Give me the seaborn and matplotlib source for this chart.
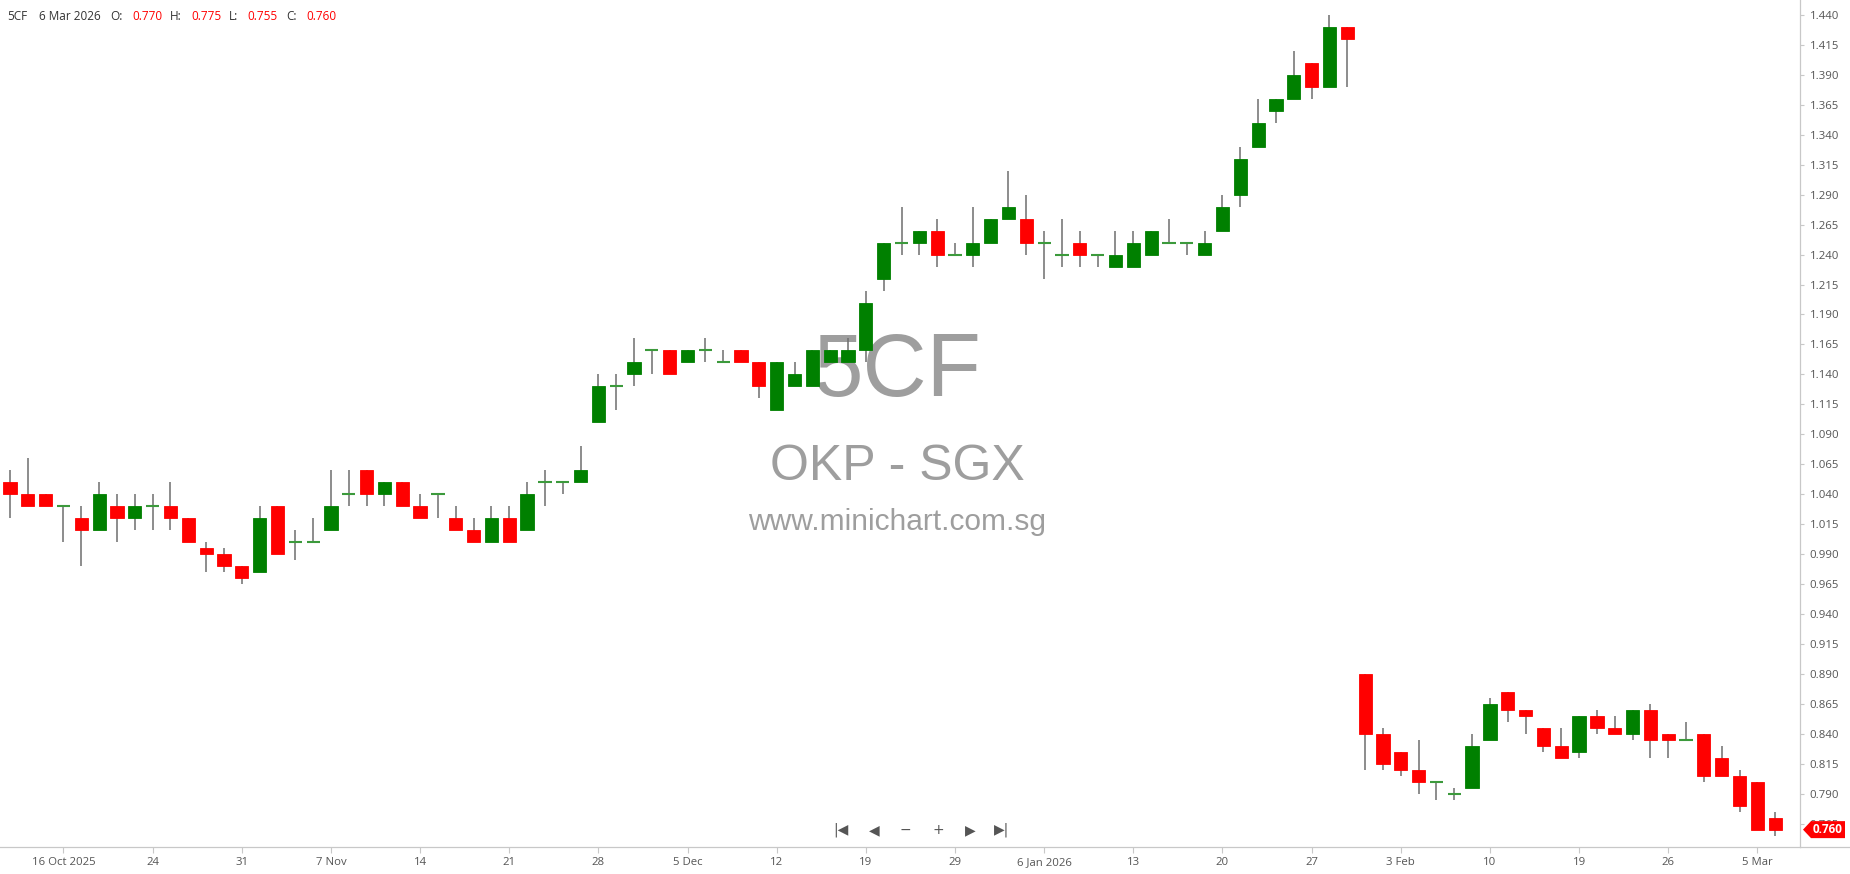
import numpy as np
import pandas as pd
import matplotlib
matplotlib.use("Agg")
import matplotlib.pyplot as plt
import seaborn as sns
from matplotlib.patches import Polygon
from matplotlib.lines import Line2D
from matplotlib.transforms import IdentityTransform

# daily OHLC, 13 Oct 2025 .. 6 Mar 2026 (one entry per trading day)
opens = [1.05, 1.04, 1.04, 1.03, 1.02, 1.01, 1.03, 1.02, 1.03, 1.03,
         1.02, 0.995, 0.99, 0.98, 0.975, 1.03, 1.00, 1.00, 1.01, 1.04,
         1.06, 1.04, 1.05, 1.03, 1.04, 1.02, 1.01, 1.00, 1.02, 1.01,
         1.05, 1.05, 1.05, 1.10, 1.13, 1.14, 1.16, 1.16, 1.15, 1.16,
         1.15, 1.16, 1.15, 1.11, 1.13, 1.13, 1.15, 1.15, 1.16, 1.22,
         1.25, 1.25, 1.26, 1.24, 1.24, 1.25, 1.27, 1.27, 1.25, 1.24,
         1.25, 1.24, 1.23, 1.23, 1.24, 1.25, 1.25, 1.24, 1.26, 1.29,
         1.33, 1.36, 1.37, 1.40, 1.38, 1.43, 0.89, 0.84, 0.825, 0.81,
         0.80, 0.79, 0.795, 0.835, 0.875, 0.86, 0.845, 0.83, 0.825, 0.855,
         0.845, 0.84, 0.86, 0.84, 0.835, 0.84, 0.82, 0.805, 0.80, 0.77]
highs = [1.06, 1.07, 1.04, 1.03, 1.03, 1.05, 1.04, 1.04, 1.04, 1.05,
         1.02, 1.00, 0.995, 0.98, 1.03, 1.03, 1.01, 1.02, 1.06, 1.06,
         1.06, 1.05, 1.05, 1.04, 1.04, 1.03, 1.02, 1.03, 1.03, 1.05,
         1.06, 1.05, 1.08, 1.14, 1.14, 1.17, 1.16, 1.16, 1.16, 1.17,
         1.16, 1.16, 1.15, 1.15, 1.15, 1.16, 1.16, 1.17, 1.21, 1.25,
         1.28, 1.26, 1.27, 1.25, 1.28, 1.27, 1.31, 1.29, 1.26, 1.27,
         1.26, 1.24, 1.26, 1.26, 1.26, 1.27, 1.25, 1.26, 1.29, 1.33,
         1.37, 1.37, 1.41, 1.40, 1.44, 1.43, 0.89, 0.845, 0.825, 0.835,
         0.80, 0.795, 0.84, 0.87, 0.875, 0.86, 0.845, 0.845, 0.855, 0.86,
         0.855, 0.86, 0.865, 0.84, 0.85, 0.84, 0.83, 0.81, 0.80, 0.775]
lows = [1.02, 1.03, 1.03, 1.00, 0.98, 1.01, 1.00, 1.01, 1.01, 1.01,
        1.00, 0.975, 0.975, 0.965, 0.975, 0.99, 0.985, 1.00, 1.01, 1.03,
        1.03, 1.03, 1.03, 1.02, 1.02, 1.01, 1.00, 1.00, 1.00, 1.01,
        1.03, 1.04, 1.05, 1.10, 1.11, 1.13, 1.14, 1.14, 1.15, 1.15,
        1.15, 1.15, 1.12, 1.11, 1.13, 1.13, 1.15, 1.15, 1.15, 1.21,
        1.24, 1.24, 1.23, 1.24, 1.23, 1.25, 1.27, 1.24, 1.22, 1.23,
        1.23, 1.23, 1.23, 1.23, 1.24, 1.25, 1.24, 1.24, 1.26, 1.28,
        1.33, 1.35, 1.37, 1.37, 1.38, 1.38, 0.81, 0.81, 0.805, 0.79,
        0.785, 0.785, 0.795, 0.835, 0.85, 0.84, 0.825, 0.82, 0.82, 0.84,
        0.84, 0.835, 0.82, 0.82, 0.835, 0.80, 0.805, 0.775, 0.76, 0.755]
closes = [1.04, 1.03, 1.03, 1.03, 1.01, 1.04, 1.02, 1.03, 1.03, 1.02,
          1.00, 0.99, 0.98, 0.97, 1.02, 0.99, 1.00, 1.00, 1.03, 1.04,
          1.04, 1.05, 1.03, 1.02, 1.04, 1.01, 1.00, 1.02, 1.00, 1.04,
          1.05, 1.05, 1.06, 1.13, 1.13, 1.15, 1.16, 1.14, 1.16, 1.16,
          1.15, 1.15, 1.13, 1.15, 1.14, 1.16, 1.16, 1.16, 1.20, 1.25,
          1.25, 1.26, 1.24, 1.24, 1.25, 1.27, 1.28, 1.25, 1.25, 1.24,
          1.24, 1.24, 1.24, 1.25, 1.26, 1.25, 1.25, 1.25, 1.28, 1.32,
          1.35, 1.37, 1.39, 1.38, 1.43, 1.42, 0.84, 0.815, 0.81, 0.80,
          0.80, 0.79, 0.83, 0.865, 0.86, 0.855, 0.83, 0.82, 0.855, 0.845,
          0.84, 0.86, 0.835, 0.835, 0.835, 0.805, 0.805, 0.78, 0.76, 0.76]

tick_idx = [3, 8, 13, 18, 23, 28, 33, 38, 43, 48,
            53, 58, 63, 68, 73, 78, 83, 88, 93, 98]
tick_labels = ["16 Oct 2025", "24", "31", "7 Nov", "14", "21", "28", "5 Dec", "12", "19",
               "29", "6 Jan 2026", "13", "20", "27", "3 Feb", "10", "19", "26", "5 Mar"]
price_labels = ["0.765", "0.790", "0.815", "0.840", "0.865", "0.890", "0.915",
                "0.940", "0.965", "0.990", "1.015", "1.040", "1.065", "1.090",
                "1.115", "1.140", "1.165", "1.190", "1.215", "1.240", "1.265",
                "1.290", "1.315", "1.340", "1.365", "1.390", "1.415", "1.440"]

symbol = "5CF"
last_date = "6 Mar 2026"

UP = "#008000"
DOWN = "#ff0000"
WICK = "#6e6e6e"
TXT = "#555555"
AXIS = "#c8c8c8"

sns.set_theme(style="white")
plt.rcParams['font.family'] = ['Open Sans', 'DejaVu Sans']

df = pd.DataFrame({'open': opens, 'high': highs, 'low': lows, 'close': closes})
df['idx'] = np.arange(len(df))
df['up'] = df['close'] >= df['open']
df['color'] = np.where(df['up'], UP, DOWN)
df['bottom'] = df[['open', 'close']].min(axis=1)
df['height'] = (df['close'] - df['open']).abs()

W, H = 1850, 874
fig = plt.figure(figsize=(W / 100, H / 100), dpi=100)
fig.patch.set_facecolor('white')
ax = fig.add_axes([0, 27 / H, 1800 / W, 847 / H])
ax.set_facecolor('white')

# wicks
ax.vlines(df['idx'], df['low'], df['high'], color=WICK, lw=1.1, zorder=2)

# bodies
body = df[df['height'] > 0]
ax.bar(body['idx'], body['height'], bottom=body['bottom'], width=0.74,
       color=body['color'], edgecolor=body['color'], linewidth=0.6, zorder=3)

# doji
doji = df[df['height'] == 0]
ax.hlines(doji['close'], doji['idx'] - 0.37, doji['idx'] + 0.37,
          color='#3c9a3c', lw=1.5, zorder=3)

ax.set_xlim(-0.56, 100.39)
ax.set_ylim(0.7455, 1.4525)

ax.set_xticks(tick_idx)
ax.set_xticklabels(tick_labels)
ax.yaxis.tick_right()
ax.set_yticks([float(v) for v in price_labels])
ax.set_yticklabels(price_labels)
ax.tick_params(axis='x', direction='out', length=4, width=0.8, color=AXIS,
               labelsize=8.2, labelcolor=TXT, pad=3, bottom=True)
ax.tick_params(axis='y', direction='out', length=3, width=0.8, color=AXIS,
               labelsize=8.2, labelcolor=TXT, pad=4, right=True, left=False)
ax.grid(False)
for side in ['left', 'top']:
    ax.spines[side].set_visible(False)
for side in ['right', 'bottom']:
    ax.spines[side].set_color(AXIS)
    ax.spines[side].set_linewidth(0.9)
fig.add_artist(Line2D([1800 / W, 1], [27 / H, 27 / H], color=AXIS, lw=0.9,
                      transform=fig.transFigure))

# watermark (behind candles)
wm = '#9e9e9e'
ax.text(897 / W, 1 - 373 / H, symbol, transform=fig.transFigure, ha='center',
        va='center', fontsize=64, color=wm, family='Liberation Sans', zorder=1)
ax.text(897 / W, 1 - 467 / H, "OKP - SGX", transform=fig.transFigure, ha='center',
        va='center', fontsize=36, color=wm, family='Liberation Sans', zorder=1)
ax.text(897 / W, 1 - 522 / H, "www.minichart.com.sg", transform=fig.transFigure,
        ha='center', va='center', fontsize=21.5, color=wm, family='Liberation Sans',
        zorder=1)

# header line
last = df.iloc[-1]
parts = [(symbol, 7, '#333333'), (last_date, 39, '#333333'),
         ("O:", 110, '#333333'), (f"{last['open']:.3f}", 132, DOWN),
         ("H:", 170, '#333333'), (f"{last['high']:.3f}", 191, DOWN),
         ("L:", 229, '#333333'), (f"{last['low']:.3f}", 247, DOWN),
         ("C:", 286, '#333333'), (f"{last['close']:.3f}", 306, DOWN)]
for txt, px, col in parts:
    fig.text(px / W, 1 - 17 / H, txt, ha='left', va='center', fontsize=8.5, color=col)

# navigation buttons
for txt, px in [("|◀", 841), ("◀", 874), ("−", 905), ("+", 938), ("▶", 970), ("▶|", 1002)]:
    fig.text(px / W, 1 - 830 / H, txt, ha='center', va='center', fontsize=10,
             color='#555555', family='DejaVu Sans')

# last price tag (sits over the 0.765 label, as in the original)
yc = ax.transData.transform((0, last['close']))[1]
tag = Polygon([(1803, yc), (1811, yc + 8.5), (1845, yc + 8.5),
               (1845, yc - 8.5), (1811, yc - 8.5)], closed=True,
              facecolor=DOWN, edgecolor='none', transform=IdentityTransform())
fig.add_artist(tag)
fig.text(1828 / W, yc / H, f"{last['close']:.3f}", ha='center', va='center',
         fontsize=8.5, color='white', fontweight='bold')

fig.savefig('out.png', dpi=100, facecolor='white')
